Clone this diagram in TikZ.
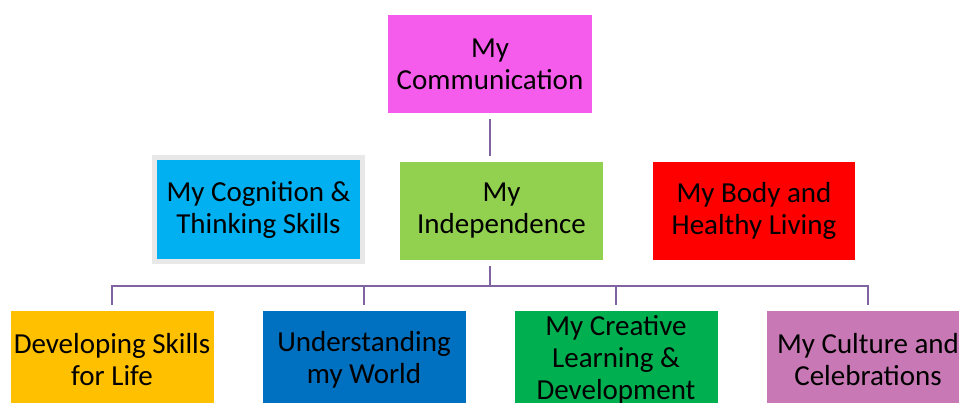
\documentclass[tikz,border=0pt]{standalone}
\usepackage{fontspec}
\setmainfont{Carlito}
\usepackage{tikz}
\usetikzlibrary{positioning}
\definecolor{commpink}{HTML}{F65CEB}
\definecolor{indgreen}{HTML}{92D050}
\definecolor{cogcyan}{HTML}{00B0F0}
\definecolor{bodyred}{HTML}{FF0000}
\definecolor{devyellow}{HTML}{FFC000}
\definecolor{worldblue}{HTML}{0070C0}
\definecolor{creagreen}{HTML}{00B050}
\definecolor{cultpink}{HTML}{C878B4}
\definecolor{linkpurple}{HTML}{8064A2}
\tikzset{
	every node/.style = {rectangle, inner sep=0pt, align=center, font=\fontsize{29}{32}\selectfont},
	box/.style = {minimum width=203pt, minimum height=98pt},
	link/.style = {draw=linkpurple, line width=2pt, shorten <=6pt, shorten >=6pt}
}

\begin{document}
\begin{tikzpicture}[x=1pt,y=1pt]
	\clip (0,0) rectangle (959,403);
	\node (comm) [box, fill=commpink, minimum width=204pt] at (490,339) {My\\Communication};
	\node (indep) [box, fill=indgreen] at (501.5,192) {My\\Independence};
	\node (cog) [box, fill=cogcyan, draw=gray!18, line width=5pt, minimum width=208pt, minimum height=104pt] at (258.5,193.5) {My Cognition \&\\Thinking Skills};
	\node (body) [box, fill=bodyred, minimum width=202pt] at (754,192) {My Body and\\Healthy Living};
	\coordinate (bus) at (490,117);
	\node (dev) [box, fill=devyellow] at (112,43) {Developing Skills\\for Life};
	\node (world) [box, fill=worldblue] at (364,43) {Understanding\\my World};
	\node (crea) [box, fill=creagreen] at (616,43) {My Creative\\Learning \&\\Development};
	\node (cult) [box, fill=cultpink] at (868,43) {My Culture and\\Celebrations};
	\draw[link] (comm.south) -- (comm.south |- indep.north);
	\draw[link] (indep.south -| bus) -- (bus) -| (dev.north);
	\draw[link] (indep.south -| bus) -- (bus) -| (world.north);
	\draw[link] (indep.south -| bus) -- (bus) -| (crea.north);
	\draw[link] (indep.south -| bus) -- (bus) -| (cult.north);
\end{tikzpicture}
\end{document}
